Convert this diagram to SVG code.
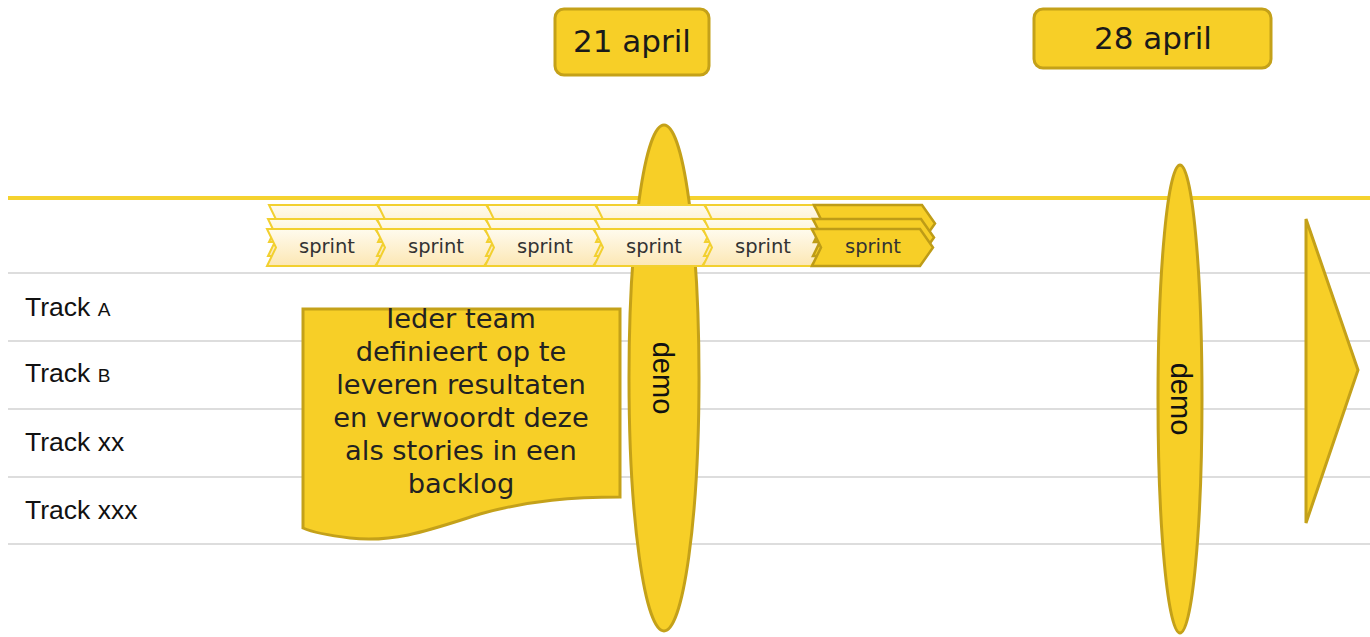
<svg xmlns="http://www.w3.org/2000/svg" width="1370" height="637" viewBox="0 0 1370 637">
<defs>
<linearGradient id="cream" x1="0" y1="0" x2="0" y2="1">
<stop offset="0" stop-color="#FFFBEE"/>
<stop offset="1" stop-color="#FCE7B4"/>
</linearGradient>
<polygon id="chev" points="0,0 108,0 121,18.5 108,37 0,37 9,18.5"/>
</defs>
<style>
.grid{stroke:#D2D2D2;stroke-width:1.5;fill:none}
.gold{fill:#F7CF27;stroke:#C4A119;stroke-width:3}
.lite{fill:url(#cream);stroke:#F2D030;stroke-width:2}
.dark{fill:#F7CF27;stroke:#BE9C17;stroke-width:2.5}
.sprint{font-family:"DejaVu Sans",sans-serif;font-size:19.5px;fill:#333;text-anchor:middle}
.date{font-family:"DejaVu Sans",sans-serif;font-size:31px;fill:#1a1a1a;text-anchor:middle}
.note{font-family:"DejaVu Sans",sans-serif;font-size:27.3px;fill:#222;text-anchor:middle}
.demo{font-family:"Liberation Sans",Arial,sans-serif;font-size:29px;fill:#111;text-anchor:middle}
.track{font-family:"Liberation Sans",Arial,sans-serif;font-size:26.5px;fill:#111}
.small{font-size:19px}
</style>
<rect width="1370" height="637" fill="#FFFFFF"/>
<g id="grid">
<line class="grid" x1="8" y1="273" x2="1370" y2="273"/>
<line class="grid" x1="8" y1="341" x2="1370" y2="341"/>
<line class="grid" x1="8" y1="409" x2="1370" y2="409"/>
<line class="grid" x1="8" y1="477" x2="1370" y2="477"/>
<line class="grid" x1="8" y1="544" x2="1370" y2="544"/>
<line x1="8" y1="198" x2="1370" y2="198" stroke="#F5D22E" stroke-width="4"/>
</g>
<g id="tracks">
<text class="track" x="25" y="316">Track <tspan class="small">A</tspan></text>
<text class="track" x="25" y="382">Track <tspan class="small">B</tspan></text>
<text class="track" x="25" y="451">Track xx</text>
<text class="track" x="25" y="519">Track xxx</text>
</g>
<g id="demo1">
<ellipse class="gold" cx="664" cy="378" rx="35" ry="253"/>
<text class="demo" transform="translate(663,378) rotate(90)" y="10">demo</text>
</g>
<g id="sprints">
<g transform="translate(267,0)">
<use href="#chev" class="lite" x="2" y="205"/><use href="#chev" class="lite" x="1" y="219"/><use href="#chev" class="lite" y="229"/>
<text class="sprint" x="60" y="253">sprint</text></g>
<g transform="translate(376,0)">
<use href="#chev" class="lite" x="2" y="205"/><use href="#chev" class="lite" x="1" y="219"/><use href="#chev" class="lite" y="229"/>
<text class="sprint" x="60" y="253">sprint</text></g>
<g transform="translate(485,0)">
<use href="#chev" class="lite" x="2" y="205"/><use href="#chev" class="lite" x="1" y="219"/><use href="#chev" class="lite" y="229"/>
<text class="sprint" x="60" y="253">sprint</text></g>
<g transform="translate(594,0)">
<use href="#chev" class="lite" x="2" y="205"/><use href="#chev" class="lite" x="1" y="219"/><use href="#chev" class="lite" y="229"/>
<text class="sprint" x="60" y="253">sprint</text></g>
<g transform="translate(703,0)">
<use href="#chev" class="lite" x="2" y="205"/><use href="#chev" class="lite" x="1" y="219"/><use href="#chev" class="lite" y="229"/>
<text class="sprint" x="60" y="253">sprint</text></g>
<g transform="translate(812,0)">
<use href="#chev" class="dark" x="2" y="205"/><use href="#chev" class="dark" x="1" y="219"/><use href="#chev" class="dark" y="229"/>
<text class="sprint" x="61" y="253">sprint</text></g>
</g>
<g id="backlog">
<path class="gold" d="M303,309 L620,309 L620,497 C575,497 530,500 480,514 C430,530 395,543 350,538 C325,535 312,532 303,528 Z"/>
<text class="note" x="461" y="328">Ieder team</text>
<text class="note" x="461" y="361">definieert op te</text>
<text class="note" x="461" y="394">leveren resultaten</text>
<text class="note" x="461" y="427">en verwoordt deze</text>
<text class="note" x="461" y="460">als stories in een</text>
<text class="note" x="461" y="493">backlog</text>
</g>
<g id="demo2">
<ellipse class="gold" cx="1180" cy="399" rx="22" ry="234"/>
<text class="demo" transform="translate(1181,399) rotate(90)" y="10">demo</text>
</g>
<g id="arrow">
<polygon class="gold" points="1306,219 1358,370 1306,523"/>
</g>
<g id="date21">
<rect class="gold" x="555" y="9" width="154" height="66" rx="9"/>
<text class="date" x="632" y="52">21 april</text>
</g>
<g id="date28">
<rect class="gold" x="1034" y="9" width="237" height="59" rx="9"/>
<text class="date" x="1153" y="49">28 april</text>
</g>
</svg>
